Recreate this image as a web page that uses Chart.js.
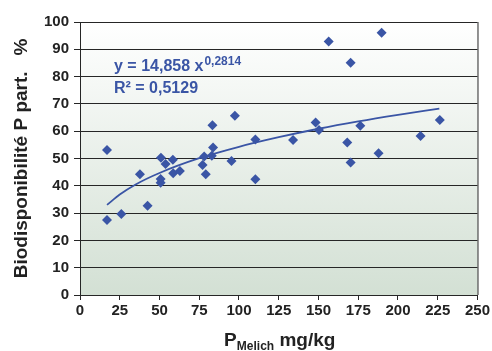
<!DOCTYPE html>
<html>
<head>
<meta charset="utf-8">
<script src="https://cdn.jsdelivr.net/npm/chart.js@4"></script>
<style>
  html, body { margin: 0; padding: 0; background: #fff; }
  #wrap { width: 492px; height: 351px; }
</style>
</head>
<body>
<div id="wrap"><canvas id="chart" width="492" height="351"></canvas></div>
<script>
// P Melich (mg/kg) and biodisponibility (%)
const pMelich = [17, 17, 26, 42.5, 37.7, 50.9, 53.8, 58.4, 50.7, 50.7, 58.6, 62.8, 77.1, 78.1, 79.1, 82.9, 83.7, 83.3,
    97.4, 95.3, 110.3, 110.3, 134, 148.2, 150.3, 156.4, 168.1, 170.2, 176.3, 189.7, 187.8, 170.2, 214.2, 226.3];
const bioP = [53.1, 27.5, 29.7, 32.7, 44.2, 50.3, 48.0, 49.5, 42.5, 41.1, 44.6, 45.4, 47.6, 50.7, 44.2, 51.0, 54.0, 62.2,
    65.7, 49.1, 57.0, 42.4, 56.8, 63.2, 60.4, 92.9, 55.9, 85.1, 62.0, 96.1, 51.9, 48.5, 58.2, 64.1];

// trend curve
const trendX = [17, 25, 35, 50, 75, 100, 125, 150, 175, 200, 226];
const trendY = [33.0, 36.8, 40.5, 44.7, 50.1, 54.3, 57.8, 60.9, 63.6, 66.0, 68.3];

const xTicks = [0, 25, 50, 75, 100, 125, 150, 175, 200, 225, 250];
const yTicks = [0, 10, 20, 30, 40, 50, 60, 70, 80, 90, 100];

const blue = '#3a55a5';
const axisColor = '#262626';
const fontFam = '"Liberation Sans", Arial, sans-serif';

const plotBg = {
    id: 'plotBg',
    beforeDraw(chart) {
        const { ctx, chartArea: a } = chart;
        const g = ctx.createLinearGradient(0, a.top, 0, a.bottom);
        g.addColorStop(0, '#ffffff');
        g.addColorStop(1, '#d3e0d4');
        ctx.save();
        ctx.fillStyle = g;
        ctx.fillRect(a.left, a.top, a.right - a.left, a.bottom - a.top);
        ctx.restore();
    },
    afterDraw(chart) {
        const { ctx, chartArea: a } = chart;
        ctx.save();
        // right frame
        ctx.strokeStyle = axisColor;
        ctx.lineWidth = 1;
        ctx.beginPath();
        ctx.moveTo(a.right + 0.5, a.top);
        ctx.lineTo(a.right + 0.5, a.bottom);
        ctx.stroke();

        // equation
        ctx.fillStyle = blue;
        ctx.textBaseline = 'alphabetic';
        ctx.textAlign = 'left';
        ctx.font = 'bold 16px ' + fontFam;
        const t1 = 'y = 14,858 x';
        ctx.fillText(t1, 114, 71);
        const w1 = ctx.measureText(t1).width;
        ctx.font = 'bold 12px ' + fontFam;
        ctx.fillText('0,2814', 114 + w1 + 1, 65);
        ctx.font = 'bold 16px ' + fontFam;
        ctx.fillText('R\u00B2 = 0,5129', 114, 93);

        // x title with subscript
        ctx.fillStyle = '#222';
        ctx.font = 'bold 19px ' + fontFam;
        const wP = ctx.measureText('P').width;
        ctx.font = 'bold 12px ' + fontFam;
        const wSub = ctx.measureText('Melich').width;
        ctx.font = 'bold 19px ' + fontFam;
        const wRest = ctx.measureText(' mg/kg').width;
        let x = (a.left + a.right) / 2 - (wP + wSub + wRest) / 2 + 1;
        ctx.fillText('P', x, 346);
        x += wP;
        ctx.font = 'bold 12px ' + fontFam;
        ctx.fillText('Melich', x, 350);
        x += wSub;
        ctx.font = 'bold 19px ' + fontFam;
        ctx.fillText(' mg/kg', x, 346);
        ctx.restore();
    }
};

const ctx = document.getElementById('chart').getContext('2d');
new Chart(ctx, {
    type: 'scatter',
    data: {
        datasets: [{
            label: 'points',
            data: pMelich.map((x, i) => ({ x, y: bioP[i] })),
            pointStyle: 'rectRot',
            pointRadius: 5,
            pointHoverRadius: 5,
            backgroundColor: blue,
            borderColor: blue,
            borderWidth: 0,
            order: 0
        }, {
            label: 'trend',
            type: 'line',
            data: trendX.map((x, i) => ({ x, y: trendY[i] })),
            showLine: true,
            pointRadius: 0,
            borderColor: blue,
            borderWidth: 1.8,
            cubicInterpolationMode: 'monotone',
            fill: false,
            order: 1
        }]
    },
    options: {
        responsive: false,
        animation: false,
        events: [],
        layout: { padding: { top: 22, right: 14, left: 0, bottom: 0 } },
        plugins: {
            legend: { display: false },
            tooltip: { enabled: false }
        },
        scales: {
            x: {
                type: 'linear',
                min: 0,
                max: 250,
                afterBuildTicks: (s) => { s.ticks = xTicks.map(v => ({ value: v })); },
                afterFit: (s) => { s.height = 56; },
                grid: {
                    drawOnChartArea: false,
                    drawTicks: true,
                    tickLength: 5,
                    color: axisColor
                },
                border: { color: axisColor, width: 1 },
                ticks: {
                    color: '#222',
                    padding: 2,
                    maxRotation: 0,
                    font: { family: fontFam, size: 15, weight: 'bold' }
                }
            },
            y: {
                type: 'linear',
                min: 0,
                max: 100,
                afterBuildTicks: (s) => { s.ticks = yTicks.map(v => ({ value: v })); },
                afterFit: (s) => { s.width = 80; },
                grid: {
                    color: axisColor,
                    lineWidth: 1,
                    drawTicks: true,
                    tickLength: 6
                },
                border: { color: axisColor, width: 1 },
                ticks: {
                    color: '#222',
                    padding: 5,
                    font: { family: fontFam, size: 15, weight: 'bold' }
                },
                title: {
                    display: true,
                    text: 'Biodisponibilité P part.   %',
                    color: '#222',
                    padding: { top: 10, bottom: 0 },
                    font: { family: fontFam, size: 19, weight: 'bold' }
                }
            }
        }
    },
    plugins: [plotBg]
});
</script>
</body>
</html>
